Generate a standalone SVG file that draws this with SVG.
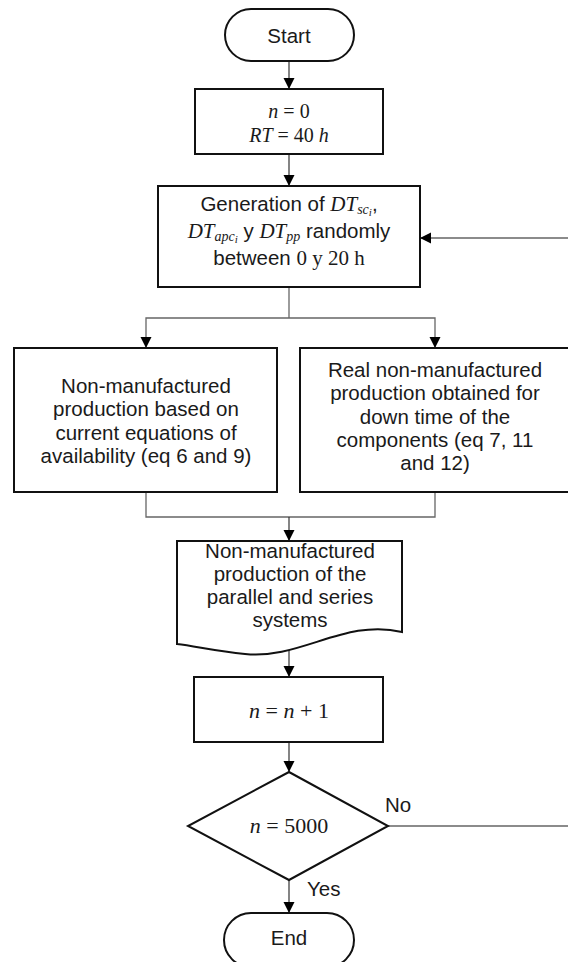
<svg xmlns="http://www.w3.org/2000/svg" width="568" height="962" viewBox="0 0 568 962">
<defs>
<marker id="ah" markerUnits="userSpaceOnUse" markerWidth="12" markerHeight="12" viewBox="0 0 12 12" refX="11" refY="6" orient="auto">
<path d="M0,0.5 L11,6 L0,11.5 Z" fill="#000"/>
</marker>
<style>
.box{fill:#fff;stroke:#111;stroke-width:2}
.t{font-family:"Liberation Sans",Arial,sans-serif;font-size:20.5px;fill:#1a1a1a;text-anchor:middle}
.m{font-family:"Liberation Serif","Times New Roman",serif;font-size:22px;fill:#1a1a1a;text-anchor:middle}
.s{font-size:20px}
.i{font-style:italic}
.c{fill:none;stroke:#333;stroke-width:1.2}
.g{fill:none;stroke:#666;stroke-width:1.3}
</style>
</defs>
<rect width="568" height="962" fill="#fff"/>
<g id="connectors">
<path class="c" d="M289,61 V89" marker-end="url(#ah)"/>
<path class="c" d="M289,154 V186" marker-end="url(#ah)"/>
<path class="g" d="M289,287 V318"/>
<path class="g" d="M289,318 H146 V348" marker-end="url(#ah)"/>
<path class="g" d="M289,318 H435 V348" marker-end="url(#ah)"/>
<path class="g" d="M146,492 V517 H435 V492"/>
<path class="c" d="M289,517 V541" marker-end="url(#ah)"/>
<path class="c" d="M289,650 V677" marker-end="url(#ah)"/>
<path class="c" d="M289,742 V772" marker-end="url(#ah)"/>
<path class="c" d="M289,880 V913" marker-end="url(#ah)"/>
<path class="g" d="M388,826 H572 V238 H420" marker-end="url(#ah)"/>
</g>
<g id="start">
<rect class="box" x="225" y="9" width="129" height="52" rx="26"/>
<text class="t" x="289" y="43">Start</text>
</g>
<g id="init">
<rect class="box" x="195" y="89" width="188" height="65"/>
<text class="m s" x="289" y="118"><tspan class="i">n</tspan> = 0</text>
<text class="m s" x="289" y="142"><tspan class="i">RT</tspan> = 40 <tspan class="i">h</tspan></text>
</g>
<g id="generation">
<rect class="box" x="158" y="186" width="262" height="101"/>
<text class="t" x="289" y="211">Generation of <tspan class="m i" style="font-size:21px">DT</tspan><tspan class="m i" style="font-size:14px" dy="3">sc</tspan><tspan class="m i" style="font-size:11px" dy="2">i</tspan><tspan dy="-5">,</tspan></text>
<text class="t" x="289" y="238"><tspan class="m i" style="font-size:21px">DT</tspan><tspan class="m i" style="font-size:14px" dy="3">apc</tspan><tspan class="m i" style="font-size:11px" dy="2">i</tspan><tspan dy="-5"> y </tspan><tspan class="m i" style="font-size:21px">DT</tspan><tspan class="m i" style="font-size:14px" dy="3">pp</tspan><tspan dy="-3"> randomly</tspan></text>
<text class="t" x="289" y="265">between <tspan class="m" style="font-size:21px">0 y 20 h</tspan></text>
</g>
<g id="availability">
<rect class="box" x="14" y="348" width="263" height="144"/>
<text class="t" x="146" y="393">Non-manufactured</text>
<text class="t" x="146" y="416">production based on</text>
<text class="t" x="146" y="440">current equations of</text>
<text class="t" x="146" y="463">availability (eq 6 and 9)</text>
</g>
<g id="real">
<rect class="box" x="300" y="348" width="272" height="144"/>
<text class="t" x="435" y="377">Real non-manufactured</text>
<text class="t" x="435" y="400">production obtained for</text>
<text class="t" x="435" y="424">down time of the</text>
<text class="t" x="435" y="447">components (eq 7, 11</text>
<text class="t" x="435" y="470">and 12)</text>
</g>
<g id="document">
<path class="box" d="M177,541 H402 V632 C345,618 300,660 245,654 C215,651 195,646 177,644 Z"/>
<text class="t" x="290" y="558">Non-manufactured</text>
<text class="t" x="290" y="581">production of the</text>
<text class="t" x="290" y="604">parallel and series</text>
<text class="t" x="290" y="627">systems</text>
</g>
<g id="increment">
<rect class="box" x="194" y="677" width="189" height="65"/>
<text class="m" x="289" y="718"><tspan class="i">n</tspan> = <tspan class="i">n</tspan> + 1</text>
</g>
<g id="decision">
<path class="box" d="M289,772 L388,826 L289,880 L188,826 Z"/>
<text class="m" x="289" y="833"><tspan class="i">n</tspan> = 5000</text>
<text class="t" x="385" y="812" style="text-anchor:start">No</text>
<text class="t" x="307" y="896" style="text-anchor:start">Yes</text>
</g>
<g id="end">
<rect class="box" x="224" y="913" width="130" height="54" rx="27"/>
<text class="t" x="289" y="945">End</text>
</g>
</svg>
